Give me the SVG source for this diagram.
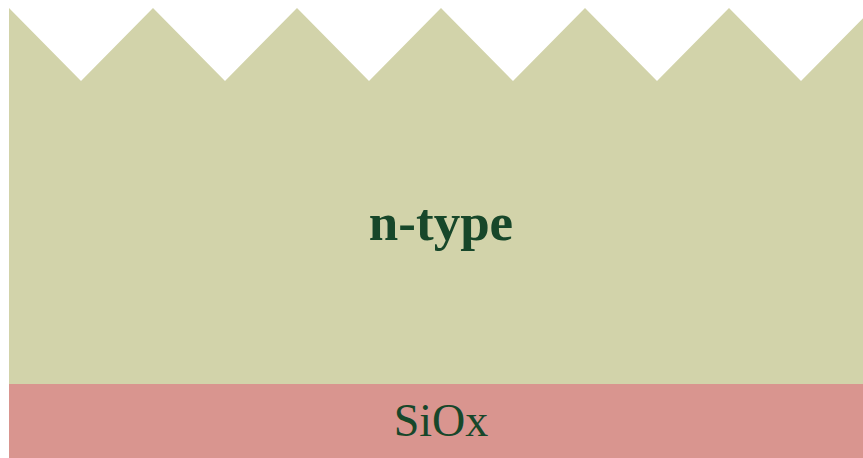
<svg xmlns="http://www.w3.org/2000/svg" width="863" height="458" viewBox="0 0 863 458">
<style>
.lbl{font-family:"Liberation Serif","Times New Roman",serif;fill:#17472a;text-anchor:middle}
</style>
<rect width="863" height="458" fill="#ffffff"/>
<g id="ntype">
<polygon points="9,8 81,81 153,8 225,81 297,8 369,81 441,8 513,81 585,8 657,81 729,8 801,81 873,8 873,384 9,384" fill="#d2d3aa"/>
<text class="lbl" x="441" y="240" font-size="53" font-weight="bold">n-type</text>
</g>
<g id="siox">
<rect x="9" y="384" width="854" height="74" fill="#d9958f"/>
<text class="lbl" x="441" y="436" font-size="46">SiOx</text>
</g>
</svg>
